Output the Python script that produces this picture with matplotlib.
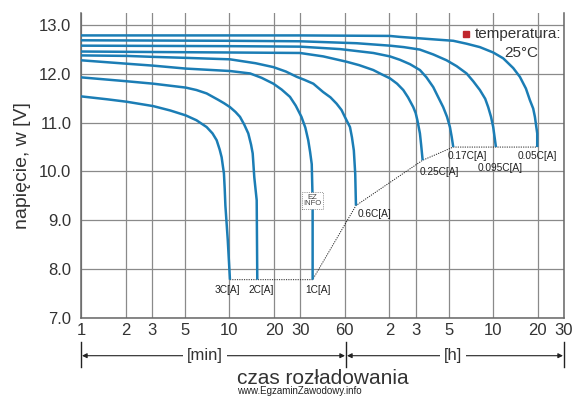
import matplotlib
matplotlib.use('Agg')
import matplotlib.pyplot as plt

plt.rcParams['font.family'] = ['Liberation Sans', 'DejaVu Sans']

# discharge curves: time [min], voltage [V]
t_3c = [1, 1.5, 2.03, 3.07, 4.0, 5.08, 6.0, 7.03, 7.7, 8.21, 8.6, 8.87, 9.05, 9.19, 9.3, 9.4, 9.75, 10.09]
v_3c = [11.54, 11.48, 11.43, 11.34, 11.25, 11.15, 11.05, 10.91, 10.78, 10.64, 10.45, 10.29, 10.1, 9.96,
        9.65, 9.3, 8.6, 7.78]

t_2c = [1, 2.03, 3.07, 5.08, 6.0, 7.03, 8.4, 9.2, 10.09, 11.0, 11.79, 12.6, 13.41, 14.0, 14.36, 14.72,
        15.28, 15.42]
v_2c = [11.93, 11.85, 11.80, 11.72, 11.67, 11.60, 11.47, 11.40, 11.32, 11.22, 11.12, 10.96, 10.78, 10.55,
        10.37, 9.88, 9.41, 7.78]

t_1c = [1, 2.03, 3.07, 5.08, 10.09, 13.8, 16.5, 19.8, 22.5, 25.6, 28.0, 30.6, 32.5, 34.0, 35.0, 35.9,
        36.4, 36.4]
v_1c = [12.28, 12.21, 12.17, 12.11, 12.06, 12.01, 11.92, 11.80, 11.68, 11.53, 11.35, 11.12, 10.9, 10.64,
        10.4, 10.15, 9.41, 7.78]

t_06c = [1, 2.03, 3.07, 5.08, 10.09, 15, 19.8, 24, 28.5, 32, 36.8, 42.8, 48, 52.8, 57, 60, 65, 67, 69,
         70.5, 71.3]
v_06c = [12.38, 12.37, 12.35, 12.33, 12.30, 12.22, 12.14, 12.05, 11.94, 11.88, 11.80, 11.63, 11.52,
         11.39, 11.26, 11.12, 10.91, 10.7, 10.43, 9.95, 9.30]

t_025c = [1, 3, 10, 29.9, 42.9, 61.7, 75, 93.3, 105, 120.8, 135, 148.6, 160, 173.5, 180, 185, 192.4,
          196, 200.7]
v_025c = [12.46, 12.45, 12.44, 12.43, 12.36, 12.25, 12.18, 12.08, 12.0, 11.91, 11.80, 11.67, 11.52,
          11.32, 11.2, 11.05, 10.78, 10.55, 10.23]

t_017c = [1, 10, 29.9, 55.6, 93.3, 120.8, 141.1, 165, 192.4, 213, 236.6, 254, 276, 293, 306.6, 315, 322.7]
v_017c = [12.58, 12.57, 12.56, 12.51, 12.43, 12.36, 12.29, 12.2, 12.08, 11.93, 11.73, 11.54, 11.32,
          11.12, 10.91, 10.71, 10.50]

t_0095c = [1, 10, 29.9, 72, 120.8, 150, 192, 236.6, 291, 340, 397, 440, 488, 530, 555, 580, 600, 626]
v_0095c = [12.69, 12.68, 12.67, 12.63, 12.58, 12.55, 12.50, 12.40, 12.28, 12.16, 12.01, 11.85, 11.67,
           11.49, 11.32, 11.12, 10.91, 10.50]

t_005c = [1, 30, 120, 141, 192, 322.7, 397, 488, 600, 701, 819, 908, 997, 1061, 1116, 1146, 1188, 1188]
v_005c = [12.79, 12.79, 12.78, 12.76, 12.73, 12.68, 12.62, 12.55, 12.44, 12.32, 12.12, 11.94, 11.70,
          11.46, 11.29, 11.12, 10.78, 10.50]

curves = [(t_3c, v_3c), (t_2c, v_2c), (t_1c, v_1c), (t_06c, v_06c),
          (t_025c, v_025c), (t_017c, v_017c), (t_0095c, v_0095c), (t_005c, v_005c)]
labels = ['3C[A]', '2C[A]', '1C[A]', '0.6C[A]', '0.25C[A]', '0.17C[A]', '0.095C[A]', '0.05C[A]']
# label offsets from the curve end, in pixels
label_off = [(-3, -10), (4, -10), (5, -10), (19, -8), (17, -12), (14, -9), (4, -21), (0, -9)]

x_ticks = [1, 2, 3, 5, 10, 20, 30, 60, 120, 180, 300, 600, 1200, 1800]
x_ticklabels = ['1', '2', '3', '5', '10', '20', '30', '60', '2', '3', '5', '10', '20', '30']
y_ticks = [7, 8, 9, 10, 11, 12, 13]

blue = '#1b7db5'
grid_c = '#8a8a8a'
txt_c = '#333333'

fig = plt.figure(figsize=(5.85, 3.97), dpi=100)
ax = fig.add_axes([81/585, 1-317.7/397, 483/585, 304.7/397])

ax.set_xscale('log')
ax.set_xlim(1, 1800)
ax.set_ylim(7, 13.25)

for t, v in curves:
    ax.plot(t, v, color=blue, lw=1.8, solid_capstyle='butt', solid_joinstyle='round', zorder=3)

# dotted line through curve end points
end_t = [c[0][-1] for c in curves]
end_v = [c[1][-1] for c in curves]
ax.plot(end_t, end_v, color='#222222', lw=0.7, ls=(0, (1.2, 1.2)), zorder=2)

for (t, v), lab, off in zip(curves, labels, label_off):
    ax.annotate(lab, (t[-1], v[-1]), xytext=(off[0]*0.72, off[1]*0.72), textcoords='offset points',
                ha='center', va='center', fontsize=7.3, color='#222222')

ax.set_xticks(x_ticks)
ax.set_xticklabels(x_ticklabels)
ax.xaxis.set_minor_locator(matplotlib.ticker.NullLocator())
ax.set_yticks(y_ticks)
ax.set_yticklabels(['%.1f' % y for y in y_ticks])
ax.tick_params(length=0, labelsize=12, colors=txt_c)
ax.tick_params(axis='y', pad=7)
ax.tick_params(axis='x', pad=4)
ax.grid(True, color=grid_c, lw=0.9)
ax.set_axisbelow(True)

ax.spines['top'].set_visible(False)
for s in ['left', 'bottom', 'right']:
    ax.spines[s].set_color('#666666')
    ax.spines[s].set_linewidth(1.1)

ax.set_ylabel('napięcie, w [V]', fontsize=14, color=txt_c, labelpad=6)

# temperature note
ax.plot([0.797], [0.931], marker='s', color='#c0272d', ms=4, transform=ax.transAxes, clip_on=False)
ax.text(0.816, 0.931, 'temperatura:', transform=ax.transAxes, fontsize=11, color=txt_c, va='center', ha='left')
ax.text(0.911, 0.869, '25°C', transform=ax.transAxes, fontsize=11, color=txt_c, va='center', ha='center')

# small watermark box
ax.text(0.479, 0.385, 'EZ\nINFO', transform=ax.transAxes, fontsize=5.5, color='#444444',
        ha='center', va='center', linespacing=0.9,
        bbox=dict(boxstyle='square,pad=0.2', fc='white', ec='#444444', lw=0.5, ls=':'))

# [min] / [h] arrows under the axis
ya = 1 - 355.7/397
y0, y1 = 1 - 366.7/397, 1 - 341.7/397
for xp in [81, 346, 564]:
    fig.add_artist(plt.Line2D([xp/585, xp/585], [y0, y1], color='#222222', lw=1.0))
arr = dict(arrowstyle='<|-|>', color='#222222', lw=0.8, mutation_scale=7, shrinkA=0, shrinkB=0)
fig.add_artist(matplotlib.patches.FancyArrowPatch((82/585, ya), (345/585, ya), transform=fig.transFigure, **arr))
fig.add_artist(matplotlib.patches.FancyArrowPatch((347/585, ya), (563/585, ya), transform=fig.transFigure, **arr))
fig.text(205/585, ya, '[min]', fontsize=12, color=txt_c, ha='center', va='center',
         bbox=dict(boxstyle='square,pad=0.25', fc='white', ec='none'))
fig.text(453/585, ya, '[h]', fontsize=12, color=txt_c, ha='center', va='center',
         bbox=dict(boxstyle='square,pad=0.25', fc='white', ec='none'))

fig.text(323/585, 1 - 378/397, 'czas rozładowania', fontsize=15, color=txt_c, ha='center', va='center')
fig.text(299/585, 1 - 391/397, 'www.EgzaminZawodowy.info', fontsize=7, color='#222222', ha='center', va='center')

fig.savefig('out.png', dpi=100, facecolor='white')
